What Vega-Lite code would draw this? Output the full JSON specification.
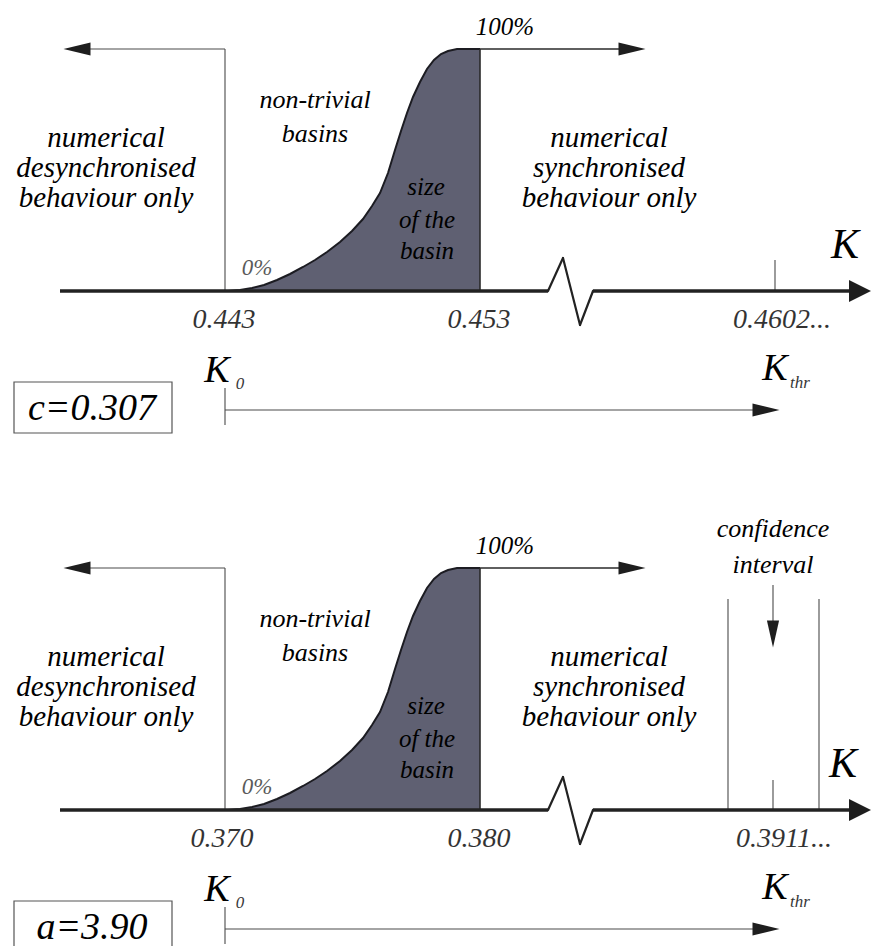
{
  "$schema": "https://vega.github.io/schema/vega-lite/v6.json",
  "width": 871,
  "height": 941,
  "view": {"stroke": null},
  "data": {"values": [
    {"panel": "c", "role": "region", "text": "numerical", "x": 106, "y": 147},
    {"panel": "c", "role": "region", "text": "desynchronised", "x": 106, "y": 177},
    {"panel": "c", "role": "region", "text": "behaviour only", "x": 106, "y": 207},
    {"panel": "c", "role": "region", "text": "numerical", "x": 609, "y": 147},
    {"panel": "c", "role": "region", "text": "synchronised", "x": 609, "y": 177},
    {"panel": "c", "role": "region", "text": "behaviour only", "x": 609, "y": 207},
    {"panel": "c", "role": "note", "text": "non-trivial", "x": 315, "y": 108},
    {"panel": "c", "role": "note", "text": "basins", "x": 315, "y": 142},
    {"panel": "c", "role": "inside", "text": "size", "x": 426, "y": 195},
    {"panel": "c", "role": "inside", "text": "of the", "x": 427, "y": 228},
    {"panel": "c", "role": "inside", "text": "basin", "x": 427, "y": 259},
    {"panel": "c", "role": "zero", "text": "0%", "x": 257, "y": 275},
    {"panel": "c", "role": "full", "text": "100%", "x": 505, "y": 35},
    {"panel": "c", "role": "axisname", "text": "K", "x": 845, "y": 258},
    {"panel": "c", "role": "tick", "text": "0.443", "x": 224, "y": 328},
    {"panel": "c", "role": "tick", "text": "0.453", "x": 479, "y": 328},
    {"panel": "c", "role": "tick", "text": "0.4602...", "x": 782, "y": 328},
    {"panel": "c", "role": "sym", "text": "K", "x": 217, "y": 382},
    {"panel": "c", "role": "sub", "text": "0", "x": 240, "y": 389},
    {"panel": "c", "role": "sym", "text": "K", "x": 775, "y": 380},
    {"panel": "c", "role": "sub", "text": "thr", "x": 800, "y": 388},
    {"panel": "c", "role": "param", "text": "c=0.307", "x": 92, "y": 420},
    {"panel": "a", "role": "region", "text": "numerical", "x": 106, "y": 666},
    {"panel": "a", "role": "region", "text": "desynchronised", "x": 106, "y": 696},
    {"panel": "a", "role": "region", "text": "behaviour only", "x": 106, "y": 726},
    {"panel": "a", "role": "region", "text": "numerical", "x": 609, "y": 666},
    {"panel": "a", "role": "region", "text": "synchronised", "x": 609, "y": 696},
    {"panel": "a", "role": "region", "text": "behaviour only", "x": 609, "y": 726},
    {"panel": "a", "role": "note", "text": "non-trivial", "x": 315, "y": 627},
    {"panel": "a", "role": "note", "text": "basins", "x": 315, "y": 661},
    {"panel": "a", "role": "note", "text": "confidence", "x": 773, "y": 537},
    {"panel": "a", "role": "note", "text": "interval", "x": 773, "y": 573},
    {"panel": "a", "role": "inside", "text": "size", "x": 426, "y": 714},
    {"panel": "a", "role": "inside", "text": "of the", "x": 427, "y": 747},
    {"panel": "a", "role": "inside", "text": "basin", "x": 427, "y": 778},
    {"panel": "a", "role": "zero", "text": "0%", "x": 257, "y": 794},
    {"panel": "a", "role": "full", "text": "100%", "x": 505, "y": 554},
    {"panel": "a", "role": "axisname", "text": "K", "x": 843, "y": 777},
    {"panel": "a", "role": "tick", "text": "0.370", "x": 222, "y": 847},
    {"panel": "a", "role": "tick", "text": "0.380", "x": 479, "y": 847},
    {"panel": "a", "role": "tick", "text": "0.3911...", "x": 784, "y": 847},
    {"panel": "a", "role": "sym", "text": "K", "x": 217, "y": 901},
    {"panel": "a", "role": "sub", "text": "0", "x": 240, "y": 908},
    {"panel": "a", "role": "sym", "text": "K", "x": 775, "y": 899},
    {"panel": "a", "role": "sub", "text": "thr", "x": 800, "y": 907},
    {"panel": "a", "role": "param", "text": "a=3.90", "x": 92, "y": 939}
  ]},
  "datasets": {
    "basin": [
      {"panel": "c", "x": 228, "y": 291, "base": 291},
      {"panel": "c", "x": 240, "y": 290, "base": 291},
      {"panel": "c", "x": 252, "y": 288, "base": 291},
      {"panel": "c", "x": 264, "y": 285, "base": 291},
      {"panel": "c", "x": 277, "y": 280, "base": 291},
      {"panel": "c", "x": 290, "y": 274, "base": 291},
      {"panel": "c", "x": 303, "y": 267, "base": 291},
      {"panel": "c", "x": 315, "y": 260, "base": 291},
      {"panel": "c", "x": 327, "y": 252, "base": 291},
      {"panel": "c", "x": 340, "y": 242, "base": 291},
      {"panel": "c", "x": 352, "y": 231, "base": 291},
      {"panel": "c", "x": 363, "y": 219, "base": 291},
      {"panel": "c", "x": 372, "y": 206, "base": 291},
      {"panel": "c", "x": 380, "y": 193, "base": 291},
      {"panel": "c", "x": 388, "y": 173, "base": 291},
      {"panel": "c", "x": 395, "y": 150, "base": 291},
      {"panel": "c", "x": 401, "y": 131, "base": 291},
      {"panel": "c", "x": 407, "y": 113, "base": 291},
      {"panel": "c", "x": 413, "y": 97, "base": 291},
      {"panel": "c", "x": 420, "y": 82, "base": 291},
      {"panel": "c", "x": 427, "y": 69, "base": 291},
      {"panel": "c", "x": 434, "y": 60, "base": 291},
      {"panel": "c", "x": 441, "y": 54, "base": 291},
      {"panel": "c", "x": 448, "y": 51, "base": 291},
      {"panel": "c", "x": 457, "y": 49, "base": 291},
      {"panel": "c", "x": 480, "y": 49, "base": 291},
      {"panel": "a", "x": 228, "y": 810, "base": 810},
      {"panel": "a", "x": 240, "y": 809, "base": 810},
      {"panel": "a", "x": 252, "y": 807, "base": 810},
      {"panel": "a", "x": 264, "y": 804, "base": 810},
      {"panel": "a", "x": 277, "y": 799, "base": 810},
      {"panel": "a", "x": 290, "y": 793, "base": 810},
      {"panel": "a", "x": 303, "y": 786, "base": 810},
      {"panel": "a", "x": 315, "y": 779, "base": 810},
      {"panel": "a", "x": 327, "y": 771, "base": 810},
      {"panel": "a", "x": 340, "y": 761, "base": 810},
      {"panel": "a", "x": 352, "y": 750, "base": 810},
      {"panel": "a", "x": 363, "y": 738, "base": 810},
      {"panel": "a", "x": 372, "y": 725, "base": 810},
      {"panel": "a", "x": 380, "y": 712, "base": 810},
      {"panel": "a", "x": 388, "y": 692, "base": 810},
      {"panel": "a", "x": 395, "y": 669, "base": 810},
      {"panel": "a", "x": 401, "y": 650, "base": 810},
      {"panel": "a", "x": 407, "y": 632, "base": 810},
      {"panel": "a", "x": 413, "y": 616, "base": 810},
      {"panel": "a", "x": 420, "y": 601, "base": 810},
      {"panel": "a", "x": 427, "y": 588, "base": 810},
      {"panel": "a", "x": 434, "y": 579, "base": 810},
      {"panel": "a", "x": 441, "y": 573, "base": 810},
      {"panel": "a", "x": 448, "y": 570, "base": 810},
      {"panel": "a", "x": 457, "y": 568, "base": 810},
      {"panel": "a", "x": 480, "y": 568, "base": 810}
    ],
    "segments": [
      {"panel": "c", "part": "axis", "x": 60, "y": 291, "x2": 548, "y2": 291},
      {"panel": "c", "part": "axis", "x": 593, "y": 291, "x2": 850, "y2": 291},
      {"panel": "c", "part": "break", "x": 548, "y": 291, "x2": 563, "y2": 258},
      {"panel": "c", "part": "break", "x": 563, "y": 258, "x2": 580, "y2": 325},
      {"panel": "c", "part": "break", "x": 580, "y": 325, "x2": 593, "y2": 291},
      {"panel": "c", "part": "guide", "x": 90, "y": 49, "x2": 225, "y2": 49},
      {"panel": "c", "part": "guide", "x": 225, "y": 49, "x2": 225, "y2": 291},
      {"panel": "c", "part": "guide", "x": 775, "y": 260, "x2": 775, "y2": 291},
      {"panel": "c", "part": "guide", "x": 225, "y": 388, "x2": 225, "y2": 425},
      {"panel": "c", "part": "guide", "x": 225, "y": 410, "x2": 755, "y2": 410},
      {"panel": "c", "part": "edge", "x": 480, "y": 49, "x2": 622, "y2": 49},
      {"panel": "c", "part": "edge", "x": 480, "y": 49, "x2": 480, "y2": 291},
      {"panel": "a", "part": "axis", "x": 60, "y": 810, "x2": 548, "y2": 810},
      {"panel": "a", "part": "axis", "x": 593, "y": 810, "x2": 850, "y2": 810},
      {"panel": "a", "part": "break", "x": 548, "y": 810, "x2": 563, "y2": 777},
      {"panel": "a", "part": "break", "x": 563, "y": 777, "x2": 580, "y2": 844},
      {"panel": "a", "part": "break", "x": 580, "y": 844, "x2": 593, "y2": 810},
      {"panel": "a", "part": "guide", "x": 90, "y": 568, "x2": 225, "y2": 568},
      {"panel": "a", "part": "guide", "x": 225, "y": 568, "x2": 225, "y2": 810},
      {"panel": "a", "part": "guide", "x": 773, "y": 780, "x2": 773, "y2": 810},
      {"panel": "a", "part": "guide", "x": 225, "y": 907, "x2": 225, "y2": 944},
      {"panel": "a", "part": "guide", "x": 225, "y": 929, "x2": 755, "y2": 929},
      {"panel": "a", "part": "guide", "x": 728, "y": 599, "x2": 728, "y2": 810},
      {"panel": "a", "part": "guide", "x": 819, "y": 599, "x2": 819, "y2": 810},
      {"panel": "a", "part": "guide", "x": 773, "y": 585, "x2": 773, "y2": 622},
      {"panel": "a", "part": "edge", "x": 480, "y": 568, "x2": 622, "y2": 568},
      {"panel": "a", "part": "edge", "x": 480, "y": 568, "x2": 480, "y2": 810}
    ],
    "axisHeads": [
      {"panel": "c", "x": 860, "y": 291},
      {"panel": "a", "x": 860, "y": 810}
    ],
    "heads": [
      {"panel": "c", "dir": "left", "x": 77, "y": 49},
      {"panel": "c", "dir": "right", "x": 632, "y": 49},
      {"panel": "c", "dir": "right", "x": 766, "y": 410},
      {"panel": "a", "dir": "left", "x": 77, "y": 568},
      {"panel": "a", "dir": "right", "x": 632, "y": 568},
      {"panel": "a", "dir": "right", "x": 766, "y": 929},
      {"panel": "a", "dir": "down", "x": 773, "y": 634}
    ],
    "boxes": [
      {"panel": "c", "x": 14, "y": 382, "x2": 172, "y2": 433},
      {"panel": "a", "x": 14, "y": 901, "x2": 172, "y2": 953}
    ]
  },
  "encoding": {
    "x": {"field": "x", "type": "quantitative", "scale": {"domain": [5, 876], "nice": false, "zero": false}, "axis": null},
    "y": {"field": "y", "type": "quantitative", "scale": {"domain": [5, 946], "nice": false, "zero": false, "reverse": true}, "axis": null}
  },
  "layer": [
    {
      "data": {"name": "basin"},
      "mark": {"type": "area", "color": "#5f6072", "opacity": 1},
      "encoding": {"y2": {"field": "base"}, "detail": {"field": "panel"}}
    },
    {
      "data": {"name": "basin"},
      "mark": {"type": "line", "color": "#1c1c22", "strokeWidth": 2},
      "encoding": {"detail": {"field": "panel"}}
    },
    {
      "data": {"name": "segments"},
      "transform": [{"filter": "datum.part === 'guide'"}],
      "mark": {"type": "rule", "color": "#4a4a4a", "strokeWidth": 1.1},
      "encoding": {"x2": {"field": "x2"}, "y2": {"field": "y2"}}
    },
    {
      "data": {"name": "segments"},
      "transform": [{"filter": "datum.part === 'edge'"}],
      "mark": {"type": "rule", "color": "#2a2a2a", "strokeWidth": 1.6},
      "encoding": {"x2": {"field": "x2"}, "y2": {"field": "y2"}}
    },
    {
      "data": {"name": "segments"},
      "transform": [{"filter": "datum.part === 'break'"}],
      "mark": {"type": "rule", "color": "#222222", "strokeWidth": 2.2, "strokeCap": "round"},
      "encoding": {"x2": {"field": "x2"}, "y2": {"field": "y2"}}
    },
    {
      "data": {"name": "segments"},
      "transform": [{"filter": "datum.part === 'axis'"}],
      "mark": {"type": "rule", "color": "#222222", "strokeWidth": 3.5},
      "encoding": {"x2": {"field": "x2"}, "y2": {"field": "y2"}}
    },
    {
      "data": {"name": "axisHeads"},
      "mark": {"type": "point", "filled": true, "opacity": 1, "color": "#1e1e1e", "size": 484, "shape": "M1,0L-1,-1L-1,1Z"}
    },
    {
      "data": {"name": "heads"},
      "mark": {"type": "point", "filled": true, "opacity": 1, "color": "#1e1e1e", "size": 729},
      "encoding": {
        "shape": {
          "field": "dir",
          "type": "nominal",
          "legend": null,
          "scale": {"domain": ["left", "right", "down"], "range": ["M-1,0L1,-0.48L1,0.48Z", "M1,0L-1,-0.48L-1,0.48Z", "M0,1L-0.45,-1L0.45,-1Z"]}
        }
      }
    },
    {
      "data": {"name": "boxes"},
      "mark": {"type": "rect", "fill": null, "stroke": "#555555", "strokeWidth": 1.2, "clip": true},
      "encoding": {"x2": {"field": "x2"}, "y2": {"field": "y2"}}
    },
    {
      "transform": [{"filter": "datum.role === 'region'"}],
      "mark": {"type": "text", "font": "Liberation Serif", "fontStyle": "italic", "align": "center", "baseline": "alphabetic", "fontSize": 29},
      "encoding": {"text": {"field": "text"}}
    },
    {
      "transform": [{"filter": "datum.role === 'note'"}],
      "mark": {"type": "text", "font": "Liberation Serif", "fontStyle": "italic", "align": "center", "baseline": "alphabetic", "fontSize": 26},
      "encoding": {"text": {"field": "text"}}
    },
    {
      "transform": [{"filter": "datum.role === 'inside'"}],
      "mark": {"type": "text", "font": "Liberation Serif", "fontStyle": "italic", "align": "center", "baseline": "alphabetic", "fontSize": 25},
      "encoding": {"text": {"field": "text"}}
    },
    {
      "transform": [{"filter": "datum.role === 'zero'"}],
      "mark": {"type": "text", "font": "Liberation Serif", "fontStyle": "italic", "align": "center", "baseline": "alphabetic", "fontSize": 23, "opacity": 0.65},
      "encoding": {"text": {"field": "text"}}
    },
    {
      "transform": [{"filter": "datum.role === 'full'"}],
      "mark": {"type": "text", "font": "Liberation Serif", "fontStyle": "italic", "align": "center", "baseline": "alphabetic", "fontSize": 25},
      "encoding": {"text": {"field": "text"}}
    },
    {
      "transform": [{"filter": "datum.role === 'tick'"}],
      "mark": {"type": "text", "font": "Liberation Serif", "fontStyle": "italic", "align": "center", "baseline": "alphabetic", "fontSize": 28, "opacity": 0.8},
      "encoding": {"text": {"field": "text"}}
    },
    {
      "transform": [{"filter": "datum.role === 'axisname'"}],
      "mark": {"type": "text", "font": "Liberation Serif", "fontStyle": "italic", "align": "center", "baseline": "alphabetic", "fontSize": 42},
      "encoding": {"text": {"field": "text"}}
    },
    {
      "transform": [{"filter": "datum.role === 'sym'"}],
      "mark": {"type": "text", "font": "Liberation Serif", "fontStyle": "italic", "align": "center", "baseline": "alphabetic", "fontSize": 38},
      "encoding": {"text": {"field": "text"}}
    },
    {
      "transform": [{"filter": "datum.role === 'sub'"}],
      "mark": {"type": "text", "font": "Liberation Serif", "fontStyle": "italic", "align": "center", "baseline": "alphabetic", "fontSize": 17, "opacity": 0.8},
      "encoding": {"text": {"field": "text"}}
    },
    {
      "transform": [{"filter": "datum.role === 'param'"}],
      "mark": {"type": "text", "font": "Liberation Serif", "fontStyle": "italic", "align": "center", "baseline": "alphabetic", "fontSize": 38},
      "encoding": {"text": {"field": "text"}}
    }
  ]
}
